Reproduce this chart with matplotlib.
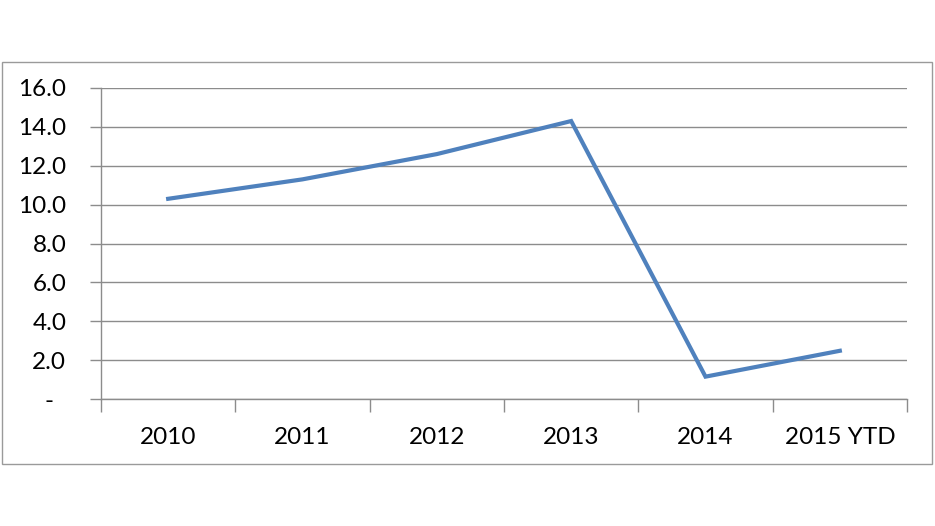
import matplotlib
matplotlib.use("Agg")
import matplotlib.pyplot as plt
from matplotlib.patches import Rectangle
from matplotlib.transforms import ScaledTranslation

categories = ["2010", "2011", "2012", "2013", "2014", "2015 YTD"]
values = [10.3, 11.3, 12.6, 14.3, 1.15, 2.48]
yticks = [0, 2, 4, 6, 8, 10, 12, 14, 16]
ytick_labels = ["-" if v == 0 else f"{v:.1f}" for v in yticks]

plt.rcParams['font.family'] = ['Lato', 'DejaVu Sans']
W, H = 935, 526
fig = plt.figure(figsize=(W / 100, H / 100), dpi=100)
fig.patch.set_facecolor("white")

# outer chart border
fig.add_artist(Rectangle((1.5 / W, 1 - 463.5 / H), (931.5 - 1.5) / W, (463.5 - 62) / H,
                         transform=fig.transFigure, fill=False, edgecolor="#9A9A9A", linewidth=1.0))

ax = fig.add_axes([101 / W, 1 - 399 / H, (907 - 101) / W, (399 - 88) / H])
x = list(range(len(categories)))
ax.plot(x, values, color="#4F81BD", linewidth=3.0, solid_joinstyle="miter", zorder=3)

ax.set_xlim(-0.5, len(categories) - 0.5)
ax.set_ylim(0, 16)

gridc = "#8C8C8C"
ax.set_yticks(yticks)
ax.set_yticklabels(ytick_labels)
ax.yaxis.grid(True, color=gridc, linewidth=1.0)
ax.tick_params(axis="y", length=8, width=1.0, color=gridc, labelsize=17.5, pad=17, labelcolor="#000000")
for lab, v in zip(ax.get_yticklabels(), yticks):
    if v == 0:
        lab.set_transform(lab.get_transform() + ScaledTranslation(-13 / 100, 0, fig.dpi_scale_trans))

ax.set_xticks(x)
ax.set_xticklabels(categories)
ax.set_xticks([i - 0.5 for i in range(len(categories) + 1)], minor=True)
ax.tick_params(axis="x", which="major", length=0, labelsize=17.5, pad=20, labelcolor="#000000")
ax.tick_params(axis="x", which="minor", length=9, width=1.0, color=gridc)

for s in ["top", "right"]:
    ax.spines[s].set_visible(False)
for s in ["left", "bottom"]:
    ax.spines[s].set_color(gridc)
    ax.spines[s].set_linewidth(1.0)
ax.set_axisbelow(True)

fig.savefig("out.png", dpi=100, facecolor="white")
